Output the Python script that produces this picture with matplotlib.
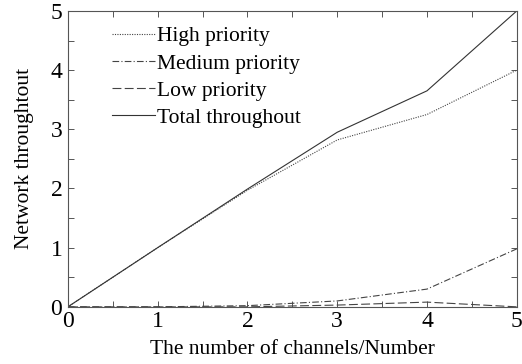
import matplotlib
import matplotlib.pyplot as plt
import numpy as np
from matplotlib.ticker import MultipleLocator

matplotlib.use("agg")

plt.rcParams["font.family"] = ["Liberation Serif", "DejaVu Serif"]

channels = [0, 1, 2, 3, 4, 5]
high = [0, 1.0, 1.97, 2.82, 3.25, 4.0]
medium = [0, 0.0, 0.02, 0.1, 0.3, 0.98]
low = [0, 0.0, 0.0, 0.03, 0.08, 0.0]
total = [0, 1.0, 1.99, 2.95, 3.65, 5.0]

fig = plt.figure(figsize=(5.22, 3.64), dpi=100)
ax = fig.add_axes([0.130, 0.157, 0.860, 0.813])

lw = 0.8
ax.plot(channels, high, color="#444444", linestyle=(0, (1, 1.2)), linewidth=lw, label="High priority")
ax.plot(channels, medium, color="#444444", linestyle=(0, (6, 2, 1, 2)), linewidth=lw, label="Medium priority")
ax.plot(channels, low, color="#444444", linestyle=(0, (8, 3)), linewidth=lw, label="Low priority")
ax.plot(channels, total, color="#333333", linestyle="-", linewidth=lw, label="Total throughout")

ax.set_xlim(0, 5)
ax.set_ylim(0, 5)
ax.xaxis.set_major_locator(MultipleLocator(1))
ax.xaxis.set_minor_locator(MultipleLocator(0.5))
ax.yaxis.set_major_locator(MultipleLocator(1))
ax.yaxis.set_minor_locator(MultipleLocator(0.5))
ax.tick_params(which="both", direction="in", top=True, right=True, length=4, width=0.7,
               color="#555555", labelsize=17)
ax.tick_params(axis="x", pad=3)
ax.tick_params(axis="y", pad=4)
for s in ax.spines.values():
    s.set_linewidth(0.8)
    s.set_color("#555555")

ax.set_xlabel("The number of channels/Number", fontsize=15.5, labelpad=6)
ax.set_ylabel("Network throughtout", fontsize=15.5, labelpad=12)

ax.legend(loc="upper left", bbox_to_anchor=(0.098, 0.948), frameon=False, fontsize=15.5,
          handlelength=2.0, handletextpad=0.1, labelspacing=0.33,
          borderpad=0, borderaxespad=0)

fig.savefig("out.png", dpi=100)
plt.close(fig)
